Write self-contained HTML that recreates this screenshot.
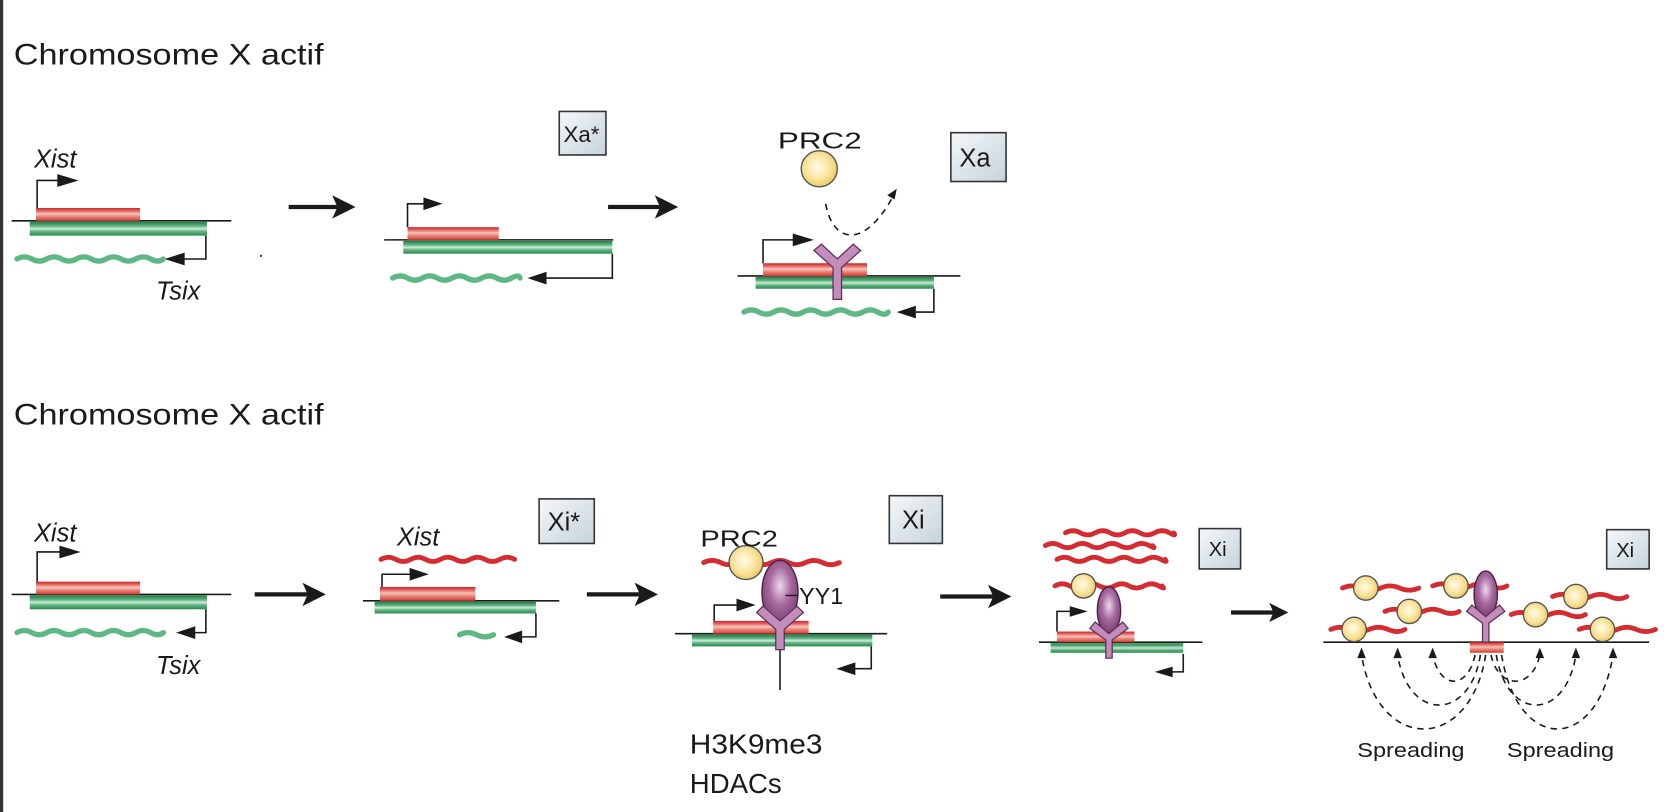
<!DOCTYPE html>
<html><head><meta charset="utf-8"><style>
html,body{margin:0;padding:0;background:#fff;}
svg{display:block;}
text{font-family:"Liberation Sans",sans-serif;fill:#1a1a1a;}
</style></head><body>
<svg width="1664" height="812" viewBox="0 0 1568 765" preserveAspectRatio="none" xmlns="http://www.w3.org/2000/svg">
<defs>
<linearGradient id="rb" x1="0" y1="0" x2="0" y2="1">
<stop offset="0" stop-color="#d41f26"/><stop offset="0.25" stop-color="#e5706a"/><stop offset="0.45" stop-color="#f4c4bb"/><stop offset="0.65" stop-color="#e98a7e"/><stop offset="1" stop-color="#d63a32"/></linearGradient>
<linearGradient id="gb" x1="0" y1="0" x2="0" y2="1">
<stop offset="0" stop-color="#1f7f45"/><stop offset="0.3" stop-color="#5cb27c"/><stop offset="0.5" stop-color="#cfeadb"/><stop offset="0.7" stop-color="#5fb47e"/><stop offset="1" stop-color="#2a8a50"/></linearGradient>
<linearGradient id="bx" x1="0" y1="0" x2="1" y2="1">
<stop offset="0" stop-color="#f4f7f9"/><stop offset="1" stop-color="#c6d3dc"/></linearGradient>
<radialGradient id="yc" cx="0.45" cy="0.45" r="0.6"><stop offset="0" stop-color="#fffbe8"/><stop offset="0.6" stop-color="#f9e29a"/><stop offset="1" stop-color="#e8c55a"/></radialGradient>
<radialGradient id="pe" cx="0.5" cy="0.4" r="0.6"><stop offset="0" stop-color="#f0d8ee"/><stop offset="0.5" stop-color="#a66a9e"/><stop offset="1" stop-color="#7a3e72"/></radialGradient>
</defs>

<rect x="0" y="0" width="3" height="765" fill="#333"/>

<text x="13" y="61" font-size="28" textLength="292" lengthAdjust="spacingAndGlyphs">Chromosome X actif</text>
<text x="13" y="400" font-size="28" textLength="292" lengthAdjust="spacingAndGlyphs">Chromosome X actif</text>

<g fill="none" stroke="#1a1a1a" stroke-width="1.5">
<line x1="11" y1="208" x2="218" y2="208"/>
<line x1="362" y1="226" x2="578" y2="226"/>
<line x1="695" y1="260" x2="905" y2="260"/>
<line x1="11" y1="560" x2="218" y2="560"/>
<line x1="342" y1="566" x2="527" y2="566"/>
<line x1="636" y1="597" x2="836" y2="597"/>
<line x1="979" y1="605" x2="1133" y2="605"/>
<line x1="1247" y1="605" x2="1554" y2="605"/>
<line x1="735" y1="610" x2="735" y2="650"/>
<polyline points="35,196 35,170 62,170"/>
<polyline points="384,214 384,192 405,192"/>
<polyline points="719,248 719,226 755,226"/>
<polyline points="35,548 35,520 62,520"/>
<polyline points="360,553 360,541 392,541"/>
<polyline points="673,585 673,570 700,570"/>
<polyline points="996,595 996,576 1013,576"/>
<polyline points="194,222 194,244 168,244"/>
<polyline points="577,239 577,262 508,262"/>
<polyline points="880,272 880,294 857,294"/>
<polyline points="194,574 194,596 176,596"/>
<polyline points="505,578 505,600 486,600"/>
<polyline points="821,609 821,630 798,630"/>
<polyline points="1115,616 1115,633 1099,633"/>
</g>
<g fill="#1a1a1a">
<polygon points="74,170 54,164 54,176"/>
<polygon points="417,192 399,186 399,198"/>
<polygon points="767,226 747,220 747,232"/>
<polygon points="76,520 56,514 56,526"/>
<polygon points="404,541 386,535 386,547"/>
<polygon points="712,570 694,564 694,576"/>
<polygon points="1025,576 1008,571 1008,581"/>
<polygon points="155,244 174,238 174,250"/>
<polygon points="497,262 515,256 515,268"/>
<polygon points="845,294 863,288 863,300"/>
<polygon points="166,596 184,590 184,602"/>
<polygon points="475,600 492,594 492,606"/>
<polygon points="788,630 806,624 806,636"/>
<polygon points="1088,633 1105,628 1105,638"/>
</g>

<g stroke="#1a1a1a" stroke-width="4">
<line x1="272" y1="195" x2="318" y2="195"/>
<line x1="573" y1="195" x2="622" y2="195"/>
<line x1="240" y1="560" x2="290" y2="560"/>
<line x1="553" y1="560" x2="603" y2="560"/>
<line x1="886" y1="562" x2="936" y2="562"/>
<line x1="1160" y1="577" x2="1200" y2="577"/>
</g>
<g fill="#1a1a1a">
<polygon points="335,195 313,184 318,195 313,206"/>
<polygon points="639,195 617,184 622,195 617,206"/>
<polygon points="307,560 285,549 290,560 285,571"/>
<polygon points="620,560 598,549 603,560 598,571"/>
<polygon points="953,562 931,551 936,562 931,573"/>
<polygon points="1214,577 1196,568 1200,577 1196,586"/>
</g>
<rect x="245" y="240" width="2" height="2" fill="#444"/>

<g fill="url(#rb)">
<rect x="34" y="196" width="98" height="12"/>
<rect x="384" y="214" width="86" height="12"/>
<rect x="719" y="248" width="98" height="12"/>
<rect x="34" y="548" width="98" height="12"/>
<rect x="358" y="553" width="90" height="13"/>
<rect x="672" y="585" width="90" height="12"/>
<rect x="996" y="595" width="73" height="10"/>
<rect x="1385" y="605" width="32" height="10"/>
</g>
<g fill="url(#gb)">
<rect x="28" y="209" width="167" height="13"/>
<rect x="380" y="227" width="197" height="12"/>
<rect x="712" y="261" width="168" height="11"/>
<rect x="28" y="561" width="167" height="13"/>
<rect x="353" y="567" width="152" height="11"/>
<rect x="652" y="598" width="170" height="11"/>
<rect x="990" y="606" width="125" height="9"/>
</g>

<g fill="none" stroke="#5db883" stroke-width="5" stroke-linecap="round">
<path d="M16 244 q7 -4 14 0 t14 0 t14 0 t14 0 t14 0 t14 0 t14 0 t14 0 t14 0 t12 0"/>
<path d="M370 262 q7 -4 14 0 t14 0 t14 0 t14 0 t14 0 t14 0 t14 0 t14 0 t8 0"/>
<path d="M701 294 q7 -4 14 0 t14 0 t14 0 t14 0 t14 0 t14 0 t14 0 t14 0 t14 0 t10 0"/>
<path d="M16 596 q7 -4 14 0 t14 0 t14 0 t14 0 t14 0 t14 0 t14 0 t14 0 t14 0 t12 0"/>
<path d="M433 598 q8 -4 16 0 t16 0"/>
</g>
<g fill="none" stroke="#d52c32" stroke-width="4.5" stroke-linecap="round">
<path d="M359 527 q7 -4 14 0 t14 0 t14 0 t14 0 t14 0 t14 0 t14 0 t14 0 t14 0"/>
<path d="M663 530 q8 -4 16 0 t16 0 t16 0 t16 0 t16 0 t16 0 t16 0 t16 0"/>
<path d="M1004 502 q7 -4 14 0 t14 0 t14 0 t14 0 t14 0 t14 0 t14 0 t4 0"/>
<path d="M985 514 q7 -4 14 0 t14 0 t14 0 t14 0 t14 0 t14 0 t14 0 t3 0"/>
<path d="M996 527 q7 -4 14 0 t14 0 t14 0 t14 0 t14 0 t14 0 t14 0 t4 0"/>
<path d="M994 552 q7 -4 14 0 t14 0 t14 0 t14 0 t14 0 t14 0 t14 0 t3 0"/>
<path d="M1265 554 q9 -4 18 0 t18 0 t18 0 t18 0"/>
<path d="M1305 576 q9 -4 18 0 t18 0 t18 0 t16 0"/>
<path d="M1254 593 q9 -4 18 0 t18 0 t18 0 t16 0"/>
<path d="M1350 552 q9 -4 18 0 t18 0 t18 0 t16 0"/>
<path d="M1424 579 q9 -4 18 0 t18 0 t18 0 t16 0"/>
<path d="M1463 562 q9 -4 18 0 t18 0 t18 0 t16 0"/>
<path d="M1488 593 q9 -4 18 0 t18 0 t18 0 t18 0"/>
</g>

<g fill="url(#yc)" stroke="#555" stroke-width="1.3">
<circle cx="772" cy="159" r="17"/>
<circle cx="703" cy="530" r="16"/>
<circle cx="1021" cy="552" r="11.5"/>
<circle cx="1287" cy="554" r="11.5"/>
<circle cx="1328" cy="576" r="11.5"/>
<circle cx="1276" cy="593" r="11.5"/>
<circle cx="1372" cy="552" r="11.5"/>
<circle cx="1447" cy="579" r="11.5"/>
<circle cx="1485" cy="562" r="11.5"/>
<circle cx="1510" cy="593" r="11.5"/>
</g>

<g fill="url(#pe)" stroke="#4a2448" stroke-width="1.3">
<ellipse cx="735" cy="558" rx="17" ry="30"/>
<ellipse cx="1045" cy="575" rx="11" ry="22"/>
<ellipse cx="1400" cy="560" rx="11" ry="22"/>
</g>
<g fill="#c28dba" stroke="#5e3058" stroke-width="1.2">
<path d="M767 236 L774 230 L789 244 L804 230 L811 236 L793 252 L793 282 L785 282 L785 252 Z"/>
<path d="M713 577 L719 571 L735 585 L751 571 L757 577 L739 593 L739 612 L731 612 L731 593 Z"/>
<path d="M1027 592 L1032 586 L1045 597 L1058 586 L1063 592 L1048 603 L1048 620 L1042 620 L1042 603 Z"/>
<path d="M1382 576 L1387 570 L1400 581 L1413 570 L1418 576 L1403 587 L1403 605 L1397 605 L1397 587 Z"/>
</g>
<line x1="740" y1="561" x2="752" y2="561" stroke="#1a1a1a" stroke-width="1.3"/>

<g fill="none" stroke="#1a1a1a" stroke-width="1.5" stroke-dasharray="6 5">
<path d="M778 192 C785 230 815 235 842 184"/>
<path d="M1390 617 C1383 650 1357 650 1350 617"/>
<path d="M1395 617 C1385 680 1327 680 1317 617"/>
<path d="M1400 617 C1385 710 1298 710 1283 617"/>
<path d="M1405 617 C1412 650 1444 650 1451 617"/>
<path d="M1410 617 C1420 680 1475 680 1485 617"/>
<path d="M1415 617 C1430 710 1505 710 1520 617"/>
</g>
<g fill="#1a1a1a">
<polygon points="845,178 836,184 843,188"/>
<polygon points="1350,610 1346,620 1354,620"/>
<polygon points="1317,610 1313,620 1321,620"/>
<polygon points="1283,610 1279,620 1287,620"/>
<polygon points="1451,610 1447,620 1455,620"/>
<polygon points="1485,610 1481,620 1489,620"/>
<polygon points="1520,610 1516,620 1524,620"/>
</g>

<g fill="url(#bx)" stroke="#333" stroke-width="1.5">
<rect x="527" y="105" width="44" height="41"/>
<rect x="896" y="125" width="52" height="46"/>
<rect x="508" y="470" width="52" height="42"/>
<rect x="838" y="467" width="50" height="45"/>
<rect x="1130" y="498" width="39" height="38"/>
<rect x="1514" y="499" width="40" height="37"/>
</g>
<text x="531" y="134" font-size="21">Xa*</text>
<text x="904" y="157" font-size="24">Xa</text>
<text x="516" y="500" font-size="24">Xi*</text>
<text x="850" y="498" font-size="24">Xi</text>
<text x="1139" y="524" font-size="19">Xi</text>
<text x="1523" y="525" font-size="19">Xi</text>

<g font-style="italic" font-size="24">
<text x="32" y="158">Xist</text>
<text x="147" y="282">Tsix</text>
<text x="32" y="510">Xist</text>
<text x="147" y="635">Tsix</text>
<text x="374" y="514">Xist</text>
</g>
<text x="733" y="140" font-size="22" textLength="79" lengthAdjust="spacingAndGlyphs">PRC2</text>
<text x="660" y="515" font-size="22" textLength="73" lengthAdjust="spacingAndGlyphs">PRC2</text>
<text x="753" y="569" font-size="22">YY1</text>
<text x="650" y="710" font-size="26" textLength="125" lengthAdjust="spacingAndGlyphs">H3K9me3</text>
<text x="650" y="747" font-size="26">HDACs</text>
<text x="1279" y="713" font-size="19" textLength="101" lengthAdjust="spacingAndGlyphs">Spreading</text>
<text x="1420" y="713" font-size="19" textLength="101" lengthAdjust="spacingAndGlyphs">Spreading</text>
</svg>
</body></html>
